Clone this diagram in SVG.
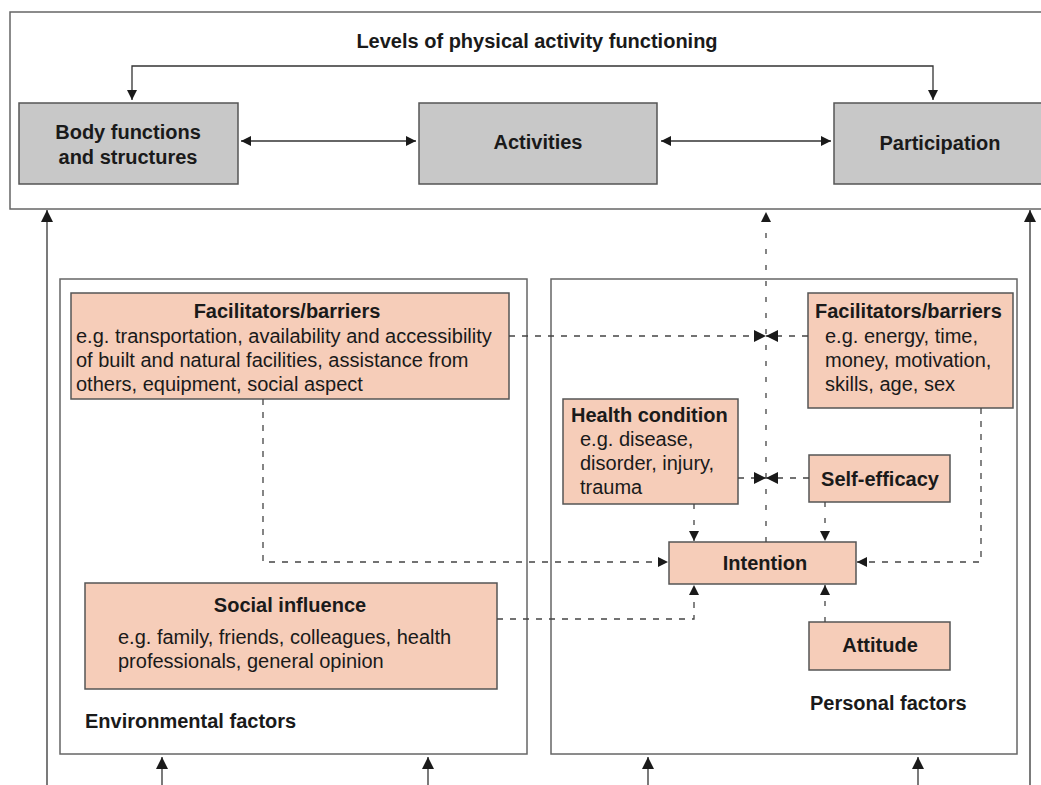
<svg xmlns="http://www.w3.org/2000/svg" width="1041" height="785" viewBox="0 0 1041 785">
<style>
text{font-family:"Liberation Sans",Arial,sans-serif;fill:#1a1a1a;font-size:20px}
.b{font-weight:bold}
.frame{fill:#fff;stroke:#666;stroke-width:1.5}
.gray{fill:#c8c8c8;stroke:#555;stroke-width:1.5}
.pink{fill:#f6cdb9;stroke:#555;stroke-width:1.5}
.ln{fill:none;stroke:#333;stroke-width:1.3}
.dh{fill:none;stroke:#444;stroke-width:1.3;stroke-dasharray:6 7}
.dv{fill:none;stroke:#444;stroke-width:1.3;stroke-dasharray:5 11}
</style>
<defs>
<marker id="a" viewBox="0 0 10 10" refX="10" refY="5" markerWidth="10" markerHeight="10" markerUnits="userSpaceOnUse" orient="auto-start-reverse">
<path d="M0,0 L10,5 L0,10 z" fill="#1a1a1a"/>
</marker>
<marker id="a2" viewBox="0 0 12 12" refX="12" refY="6" markerWidth="12" markerHeight="12" markerUnits="userSpaceOnUse" orient="auto-start-reverse">
<path d="M0,0 L12,6 L0,12 z" fill="#1a1a1a"/>
</marker>
</defs>

<g id="frames">
<rect id="levels-frame" class="frame" x="10" y="12" width="1040" height="197"/>
<rect id="env-frame" class="frame" x="60" y="279" width="467" height="475"/>
<rect id="pers-frame" class="frame" x="551" y="279" width="466" height="475"/>
</g>

<g id="title"><text class="b" x="537" y="48" text-anchor="middle">Levels of physical activity functioning</text></g>

<g id="body"><rect class="gray" x="19" y="103" width="219" height="81"/>
<text class="b" x="128" y="139" text-anchor="middle">Body functions</text>
<text class="b" x="128" y="164" text-anchor="middle">and structures</text></g>
<g id="activities"><rect class="gray" x="419" y="103" width="238" height="81"/>
<text class="b" x="538" y="149" text-anchor="middle">Activities</text></g>
<g id="participation"><rect class="gray" x="834" y="103" width="215" height="81"/>
<text class="b" x="940" y="150" text-anchor="middle">Participation</text></g>

<g id="env-facil"><rect class="pink" x="71" y="293" width="438" height="106"/>
<text class="b" x="287" y="318" text-anchor="middle">Facilitators/barriers</text>
<text x="76" y="343">e.g. transportation, availability and accessibility</text>
<text x="76" y="367">of built and natural facilities, assistance from</text>
<text x="76" y="391">others, equipment, social aspect</text></g>

<g id="pers-facil"><rect class="pink" x="808" y="293" width="205" height="115"/>
<text class="b" x="815" y="318">Facilitators/barriers</text>
<text x="825" y="343">e.g. energy, time,</text>
<text x="825" y="367">money, motivation,</text>
<text x="825" y="391">skills, age, sex</text></g>

<g id="health"><rect class="pink" x="563" y="399" width="175" height="105"/>
<text class="b" x="571" y="422">Health condition</text>
<text x="580" y="446">e.g. disease,</text>
<text x="580" y="470">disorder, injury,</text>
<text x="580" y="494">trauma</text></g>

<g id="selfeff"><rect class="pink" x="809" y="455" width="141" height="47"/>
<text class="b" x="880" y="486" text-anchor="middle">Self-efficacy</text></g>

<g id="intention"><rect class="pink" x="669" y="542" width="187" height="42"/>
<text class="b" x="765" y="570" text-anchor="middle">Intention</text></g>

<g id="attitude"><rect class="pink" x="809" y="622" width="141" height="48"/>
<text class="b" x="880" y="652" text-anchor="middle">Attitude</text></g>

<g id="social"><rect class="pink" x="85" y="583" width="412" height="106"/>
<text class="b" x="290" y="612" text-anchor="middle">Social influence</text>
<text x="118" y="644">e.g. family, friends, colleagues, health</text>
<text x="118" y="668">professionals, general opinion</text></g>

<g id="labels">
<text class="b" x="85" y="728">Environmental factors</text>
<text class="b" x="810" y="710">Personal factors</text>
</g>

<g id="connectors">
<path class="ln" d="M132,100 V66 H933 V100" marker-start="url(#a)" marker-end="url(#a)"/>
<path class="ln" d="M241,141 H416" marker-start="url(#a)" marker-end="url(#a)"/>
<path class="ln" d="M661,141 H831" marker-start="url(#a)" marker-end="url(#a)"/>
<path class="ln" d="M47,785 V210" marker-end="url(#a2)"/>
<path class="ln" d="M1030,785 V210" marker-end="url(#a2)"/>
<path class="ln" d="M162,785 V757" marker-end="url(#a2)"/>
<path class="ln" d="M428,785 V757" marker-end="url(#a2)"/>
<path class="ln" d="M648,785 V757" marker-end="url(#a2)"/>
<path class="ln" d="M918,785 V757" marker-end="url(#a2)"/>
<path class="dv" d="M766,542 V212" marker-end="url(#a)"/>
<path class="dh" d="M509,336 H766" marker-end="url(#a2)"/>
<path class="dh" d="M808,336 H766" marker-end="url(#a2)"/>
<path class="dh" d="M738,478 H766" marker-end="url(#a2)"/>
<path class="dh" d="M809,478 H766" marker-end="url(#a2)"/>
<path class="dv" d="M694,504 V541" marker-end="url(#a)"/>
<path class="dv" d="M825,502 V541" marker-end="url(#a)"/>
<path class="dh" d="M263,399 V562 H668" marker-end="url(#a)"/>
<path class="dh" d="M981,408 V562 H857" marker-end="url(#a)"/>
<path class="dh" d="M497,619 H694 V585" marker-end="url(#a)"/>
<path class="dv" d="M825,622 V585" marker-end="url(#a)"/>
</g>
</svg>
